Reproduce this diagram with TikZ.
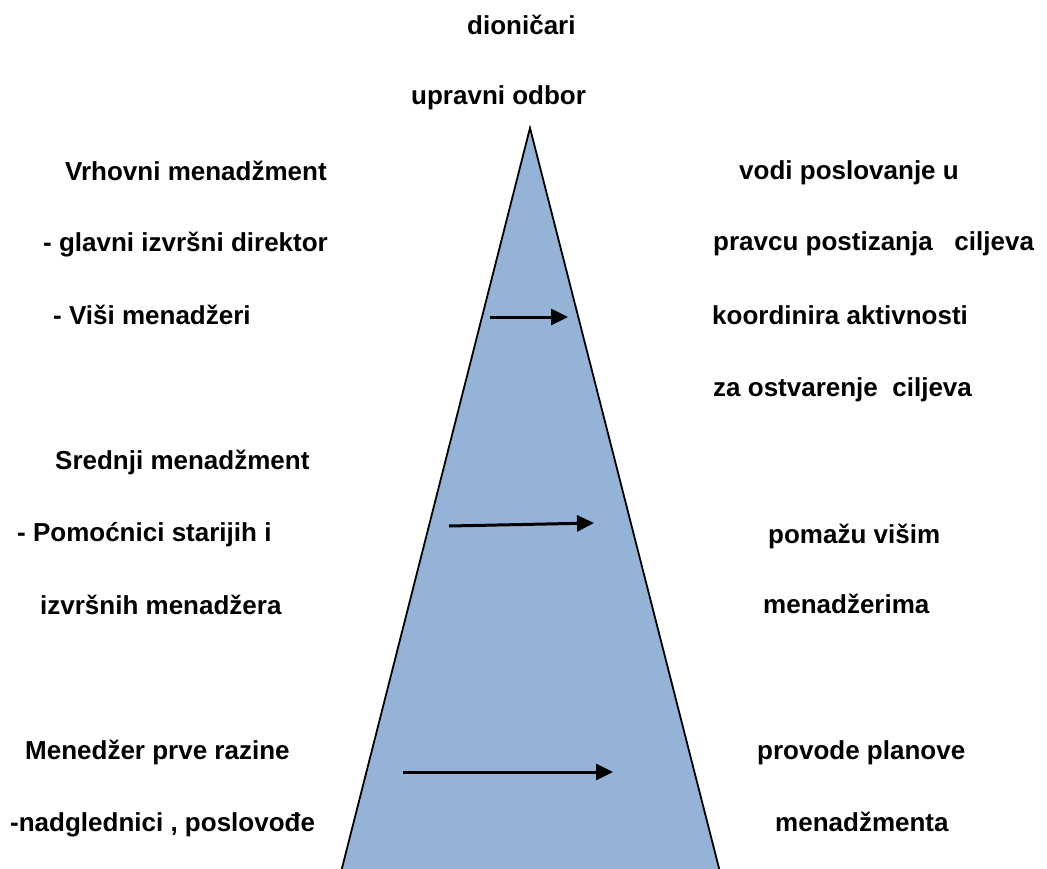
\documentclass[tikz,border=0pt]{standalone}
\usepackage{fontspec}
\setmainfont{Liberation Sans}
\usetikzlibrary{arrows.meta}
\definecolor{pyr}{HTML}{95B3D7}
\tikzset{
  lbl/.style={anchor=base west, inner sep=0pt, font=\fontsize{26}{30}\selectfont\bfseries},
  arr/.style={line width=3pt, -{Triangle[length=17pt,width=16pt]}},
  pyramid/.style={fill=pyr}
}
\begin{document}
\begin{tikzpicture}[x=1pt,y=-1pt]
\useasboundingbox (0,0) rectangle (1047,868);
\begin{scope}
\clip (0,0) rectangle (1047,868);
\coordinate (apex) at (530,128);
\coordinate (bl) at (340,876);
\coordinate (br) at (721,876);
\fill[pyramid] (bl) -- (apex) -- (br) -- cycle;
\draw[line width=1.8pt, line join=miter] (bl) -- (apex) -- (br);
\end{scope}

\node[lbl] (t1) at (467,34) {dioničari};
\node[lbl] (t2) at (411,104) {upravni odbor};

\node[lbl] (l1) at (65,180) {Vrhovni menadžment};
\node[lbl] (l2) at (43,251) {- glavni izvršni direktor};
\node[lbl] (l3) at (53,324) {- Viši menadžeri};
\node[lbl] (l4) at (55,469) {Srednji menadžment};
\node[lbl] (l5) at (17,541) {- Pomoćnici starijih i};
\node[lbl] (l6) at (40,614) {izvršnih menadžera};
\node[lbl] (l7) at (25,759) {Menedžer prve razine};
\node[lbl] (l8) at (10,831) {-nadglednici , poslovođe};

\node[lbl] (r1) at (739,179) {vodi poslovanje u};
\node[lbl] (r2) at (713,250) {pravcu postizanja\ \ \ ciljeva};
\node[lbl] (r3) at (712,324) {koordinira aktivnosti};
\node[lbl] (r4) at (713,396) {za ostvarenje\ \ ciljeva};
\node[lbl] (r5) at (768,543) {pomažu višim};
\node[lbl] (r6) at (763,613) {menadžerima};
\node[lbl] (r7) at (757,759) {provode planove};
\node[lbl] (r8) at (775,831) {menadžmenta};

\coordinate (a1s) at (490,317);
\coordinate (a1e) at (568,317);
\coordinate (a2s) at (449,526);
\coordinate (a2e) at (594,523);
\coordinate (a3s) at (403,772);
\coordinate (a3e) at (613,772);
\draw[arr] (a1s) -- (a1e);
\draw[arr] (a2s) -- (a2e);
\draw[arr] (a3s) -- (a3e);
\end{tikzpicture}
\end{document}
